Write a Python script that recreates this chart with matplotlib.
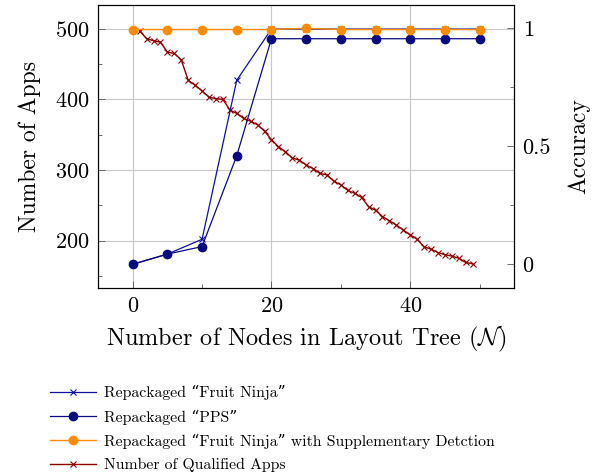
import numpy as np
import matplotlib
matplotlib.use('Agg')
import matplotlib.pyplot as plt
from matplotlib.ticker import MultipleLocator

plt.rcParams['font.family'] = ['cmr10', 'DejaVu Serif']
plt.rcParams['mathtext.fontset'] = 'cm'
plt.rcParams['axes.formatter.use_mathtext'] = True

# accuracy series (right axis)
nodes = [0, 5, 10, 15, 20, 25, 30, 35, 40, 45, 50]
acc_fruit = [0, 0.043, 0.106, 0.78, 0.997, 0.997, 0.997, 0.997, 0.997, 0.997, 0.997]
acc_pps = [0, 0.043, 0.075, 0.46, 0.956, 0.956, 0.956, 0.956, 0.956, 0.956, 0.956]
acc_supp = [0.995, 0.995, 0.995, 0.995, 0.995, 1.0, 0.995, 0.995, 0.995, 0.995, 0.995]

# qualified apps (left axis)
qual_nodes = list(range(1, 50))
qual_apps = [497, 486, 483, 481, 467, 465, 456, 427, 420, 412,
             403, 401, 400, 385, 380, 373, 369, 364, 355, 343,
             333, 326, 317, 314, 307, 302, 295, 293, 284, 279,
             271, 267, 261, 248, 243, 234, 228, 222, 215, 208,
             202, 191, 188, 183, 180, 178, 175, 169, 167]

fig = plt.figure(figsize=(6.05, 4.75), dpi=100)
ax = fig.add_axes([0.162, 0.394, 0.688, 0.596])
ax2 = ax.twinx()

l4, = ax.plot(qual_nodes, qual_apps, color='#8b0000', marker='x', ms=4, mew=0.8, lw=1.0,
              label='Number of Qualified Apps')
l1, = ax2.plot(nodes, acc_fruit, color='#1010a0', marker='x', ms=4, mew=0.8, lw=0.9,
               label='Repackaged \u201cFruit Ninja\u201d')
l2, = ax2.plot(nodes, acc_pps, color='#0a0a80', marker='o', ms=6, lw=0.9,
               label='Repackaged \u201cPPS\u201d')
l3, = ax2.plot(nodes, acc_supp, color='#ff8c00', marker='o', ms=6, lw=1.0,
               label='Repackaged \u201cFruit Ninja\u201d with Supplementary Detction')

ax.set_xlim(-5, 55)
ax.set_ylim(133, 534)
ax2.set_ylim(-0.1, 1.1)

ax.xaxis.set_major_locator(MultipleLocator(20))
ax.xaxis.set_minor_locator(MultipleLocator(10))
ax.yaxis.set_major_locator(MultipleLocator(100))
ax.yaxis.set_minor_locator(MultipleLocator(50))
ax2.yaxis.set_major_locator(MultipleLocator(0.5))
ax2.yaxis.set_minor_locator(MultipleLocator(0.25))
ax2.yaxis.set_major_formatter(plt.FuncFormatter(lambda v, p: '%g' % v))

ax.grid(True, which='major', color='#c8c8c8', lw=0.8)
ax.set_axisbelow(True)

for a in (ax, ax2):
    a.tick_params(which='major', direction='in', length=5, width=0.6, labelsize=16, color='#555555')
    a.tick_params(which='minor', direction='in', length=3, width=0.6, color='#555555')
    for s in a.spines.values():
        s.set_linewidth(0.8)
ax.tick_params(axis='x', pad=6)
ax.tick_params(axis='y', pad=6)
ax2.tick_params(axis='y', pad=6)

ax.set_xlabel('Number of Nodes in Layout Tree ($\\mathcal{N}$)', fontsize=17.5, labelpad=6)
ax.set_ylabel('Number of Apps', fontsize=17, labelpad=10)
ax2.set_ylabel('Accuracy', fontsize=17, labelpad=12)

fig.legend(handles=[l1, l2, l3, l4], loc='upper left', bbox_to_anchor=(0.06, 0.219),
           frameon=False, fontsize=11.3, handlelength=2.9, labelspacing=0.58, handletextpad=0.5)

fig.savefig('out.png', dpi=100)
